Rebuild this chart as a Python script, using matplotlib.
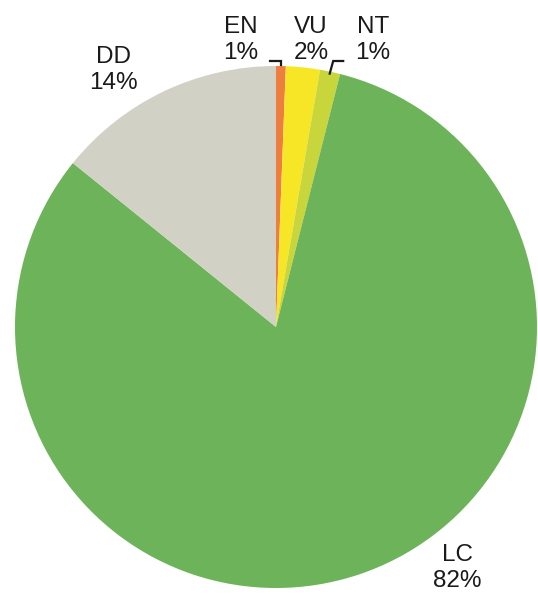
import numpy as np
import matplotlib.pyplot as plt

# IUCN categories and their shares (%)
categories = ['EN', 'VU', 'NT', 'LC', 'DD']
shares = [0.6, 2.1, 1.25, 81.9, 14.2]
colors = ['#EE7D40', '#F6E626', '#C9D63B', '#6DB35A', '#D2D1C5']

plt.rcParams['font.family'] = ['Liberation Sans', 'DejaVu Sans']

fig = plt.figure(figsize=(5.38, 5.94), dpi=100)
ax = fig.add_axes([0, 0, 1, 1])

cx, cy, r = 276, 267, 261
wedges, _ = ax.pie(shares, colors=colors, startangle=90, counterclock=False,
                   center=(cx, cy), radius=r,
                   wedgeprops=dict(linewidth=0))
ax.set_xlim(0, 538)
ax.set_ylim(0, 594)
ax.set_aspect('equal')
ax.axis('off')

# label positions (pixels, y up)
label_pos = {'EN': (241, 554), 'VU': (311, 554), 'NT': (373, 554),
             'DD': (113, 524), 'LC': (457, 26)}

total = sum(shares)
for cat, val in zip(categories, shares):
    x, y = label_pos[cat]
    ax.text(x, y, '%s\n%.0f%%' % (cat, val / total * 100), ha='center',
            va='center', fontsize=17.5, linespacing=1.28, color='#1a1a1a')

# leader lines for the small slices
cum = np.cumsum([0] + shares) / total * 360
mid = {c: np.radians((cum[i] + cum[i + 1]) / 2) for i, c in enumerate(categories)}

# EN: bracket from the left
ex = cx + (r + 1) * np.sin(mid['EN'])
ey = cy + (r + 1) * np.cos(mid['EN'])
ax.plot([ex - 11, ex, ex], [533, 533, ey], color='#1a1a1a', lw=1.6,
        solid_joinstyle='miter')

# NT: bracket from the right
nx = cx + (r - 2) * np.sin(mid['NT'])
ny = cy + (r - 2) * np.cos(mid['NT'])
ax.plot([nx, nx + 3.5, nx + 13.5], [ny, 533, 533], color='#1a1a1a', lw=1.6,
        solid_joinstyle='miter')

plt.savefig('out.png', dpi=100)
